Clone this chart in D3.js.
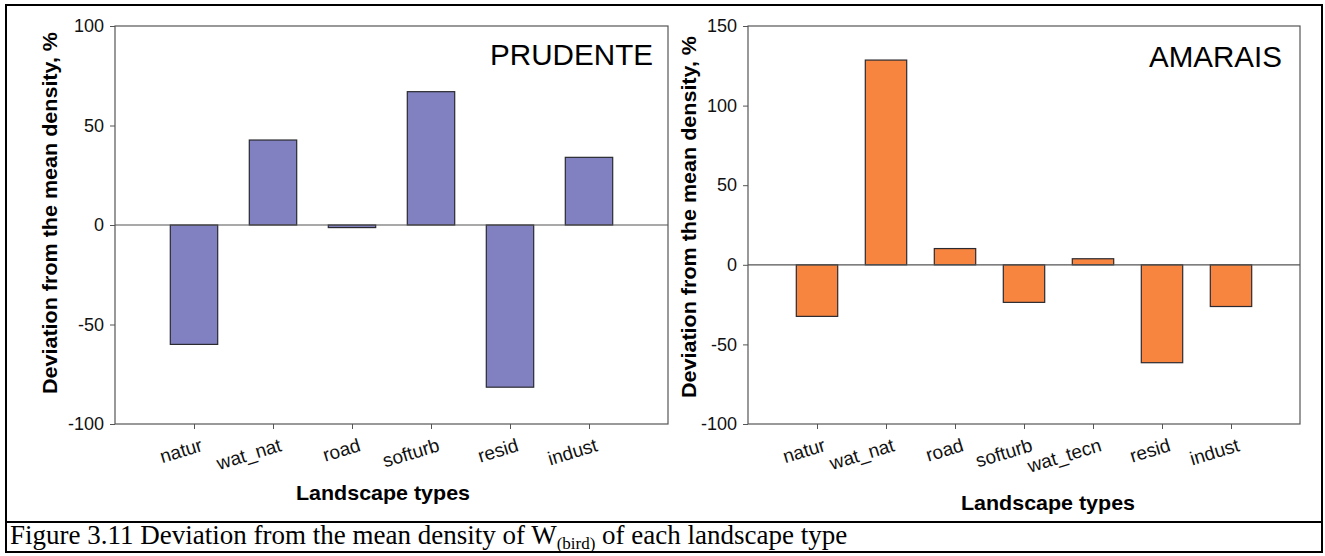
<!DOCTYPE html>
<html><head><meta charset="utf-8">
<script src="https://cdn.jsdelivr.net/npm/d3@7"></script>
<style>
body{margin:0;background:#fff;}
svg{display:block;}
</style></head>
<body>
<svg id="c" width="1325" height="556"></svg>
<script>
// ---- data ----
const prudenteCategories = ["natur","wat_nat","road","softurb","resid","indust"];
const prudenteValues     = [-60, 42.7, -1.3, 67, -81.5, 34];
const prudenteTicks      = [-100, -50, 0, 50, 100];

const amaraisCategories = ["natur","wat_nat","road","softurb","wat_tecn","resid","indust"];
const amaraisValues     = [-32.4, 128.6, 10.2, -23.6, 3.8, -61.5, -26.2];
const amaraisTicks      = [-100, -50, 0, 50, 100, 150];

const panelTitles = ["PRUDENTE","AMARAIS"];
const yTitle = "Deviation from the mean density, %";
const xTitle = "Landscape types";

const svg = d3.select("#c");
const FONT = "'Liberation Sans', Arial, sans-serif";

function panel(cfg){
  const g = svg.append("g");
  const x = d3.scalePoint().domain(cfg.cats).range([cfg.x0, cfg.x1]).padding(1);
  const y = d3.scaleLinear().domain(cfg.domain).range([cfg.yb, cfg.yt]);
  const step = x.step();
  const bw = step * 0.6;

  // bars
  g.selectAll("rect.bar").data(cfg.vals).enter().append("rect")
    .attr("x", (d,i)=> x(cfg.cats[i]) - bw/2)
    .attr("y", d => y(Math.max(0,d)))
    .attr("width", bw)
    .attr("height", d => Math.abs(y(d)-y(0)))
    .attr("fill", cfg.color)
    .attr("stroke", "#2a2a30")
    .attr("stroke-width", 1.2);

  // zero line
  g.append("line").attr("x1", cfg.x0).attr("x2", cfg.x1)
    .attr("y1", y(0)).attr("y2", y(0)).attr("stroke","#555").attr("stroke-width",1.2);

  // frame
  g.append("rect").attr("x", cfg.x0).attr("y", cfg.yt)
    .attr("width", cfg.x1-cfg.x0).attr("height", cfg.yb-cfg.yt)
    .attr("fill","none").attr("stroke","#555").attr("stroke-width",1.2);

  // y axis
  const ya = d3.axisLeft(y).tickValues(cfg.ticks).tickSize(5).tickPadding(6).tickFormat(d=>String(d));
  const yg = g.append("g").attr("transform",`translate(${cfg.x0},0)`).call(ya);
  yg.select(".domain").remove();
  yg.selectAll("line").attr("stroke","#555");
  yg.selectAll("text").attr("font-family",FONT).attr("font-size",18).attr("fill","#111");

  // x axis
  const xa = d3.axisBottom(x).tickSize(5).tickFormat(d=>d);
  const xg = g.append("g").attr("transform",`translate(0,${cfg.yb})`).call(xa);
  xg.select(".domain").remove();
  xg.selectAll("line").attr("stroke","#555");
  xg.selectAll("text")
    .attr("font-family",FONT).attr("font-size",19).attr("fill","#111")
    .attr("text-anchor","end")
    .attr("y",0).attr("dy","0.75em")
    .attr("transform","translate(5,13) rotate(-17)");

  // panel label
  g.append("text").attr("x", cfg.labelX).attr("y", cfg.labelY)
    .attr("text-anchor","end").attr("font-family",FONT).attr("font-size",29)
    .attr("textLength",cfg.labelW).attr("lengthAdjust","spacingAndGlyphs")
    .attr("fill","#000").text(cfg.title);

  // y title
  g.append("text")
    .attr("transform",`translate(${cfg.ytX},${cfg.ytY}) rotate(-90)`)
    .attr("text-anchor","middle").attr("font-family",FONT).attr("font-weight","bold")
    .attr("font-size",21).attr("dy","0.35em")
    .attr("textLength",362).attr("lengthAdjust","spacingAndGlyphs")
    .attr("fill","#000").text(yTitle);

  // x title
  g.append("text").attr("x", cfg.xtX).attr("y", cfg.xtY)
    .attr("text-anchor","middle").attr("font-family",FONT).attr("font-weight","bold")
    .attr("font-size",21).attr("textLength",174).attr("lengthAdjust","spacingAndGlyphs")
    .attr("fill","#000").text(xTitle);
}

panel({cats:prudenteCategories, vals:prudenteValues, ticks:prudenteTicks,
  domain:[-100,100], x0:115, x1:668, yt:26, yb:424, color:"#8181c1",
  title:panelTitles[0], labelX:653, labelY:65, labelW:163, ytX:50, ytY:213, xtX:383, xtY:500});

panel({cats:amaraisCategories, vals:amaraisValues, ticks:amaraisTicks,
  domain:[-100,150], x0:748, x1:1300, yt:26, yb:424, color:"#f8853f",
  title:panelTitles[1], labelX:1282, labelY:67, labelW:133, ytX:689, ytY:217, xtX:1048, xtY:510});

// outer table frame
svg.append("rect").attr("x",6).attr("y",5).attr("width",1316).attr("height",547)
  .attr("fill","none").attr("stroke","#000").attr("stroke-width",2);
svg.append("line").attr("x1",6).attr("x2",1322).attr("y1",522).attr("y2",522)
  .attr("stroke","#000").attr("stroke-width",2);

// caption
const cap = svg.append("text").attr("x",10).attr("y",544)
  .attr("font-family","'Liberation Serif','Times New Roman',serif").attr("font-size",27).attr("fill","#000");
cap.append("tspan").text("Figure 3.11 Deviation from the mean density of W");
cap.append("tspan").attr("font-size",17).attr("dy",5).text("(bird)");
cap.append("tspan").attr("dy",-5).text(" of each landscape type");
</script>
</body></html>
